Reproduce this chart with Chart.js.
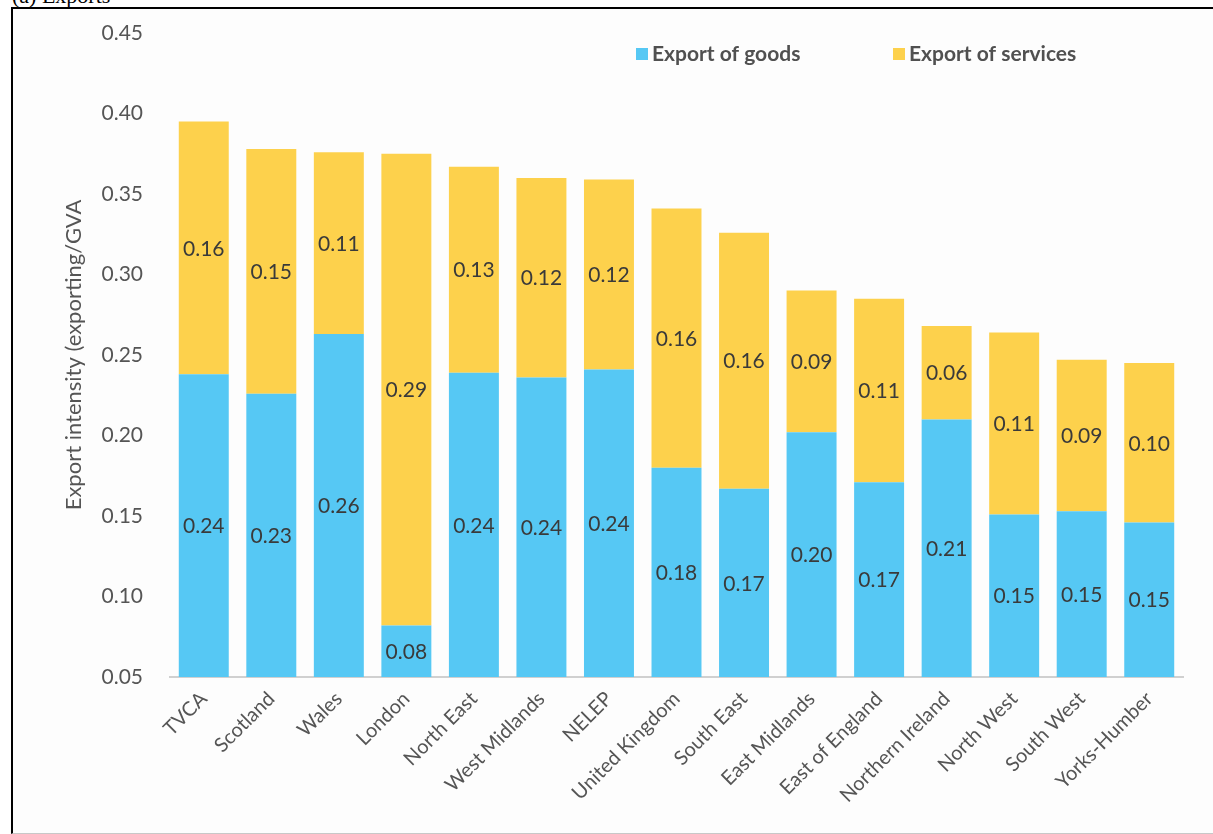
<!DOCTYPE html>
<html>
<head>
<meta charset="utf-8">
<script src="https://cdn.jsdelivr.net/npm/chart.js@4.4.1/dist/chart.umd.min.js"></script>
<style>
  html, body { margin: 0; padding: 0; background: #ffffff; overflow: hidden; }
  #wrap { position: relative; width: 1213px; height: 834px; }
  #cap { position: absolute; left: 12px; top: -17px; font-family: "Liberation Serif", "DejaVu Serif", serif; font-size: 22px; color: #000; }
  #frame { position: absolute; left: 11px; top: 7px; width: 1210px; height: 824px; border-left: 2px solid #000; border-top: 2px solid #000; border-bottom: 1px solid #c8c8c8; background: #fdfdfd; }
  #c { position: absolute; left: 0; top: 0; }
</style>
</head>
<body>
<div id="wrap">
  <div id="cap">(a) Exports</div>
  <div id="frame"></div>
  <canvas id="c" width="1213" height="834"></canvas>
</div>
<script>
const categories = ["TVCA", "Scotland", "Wales", "London", "North East", "West Midlands", "NELEP", "United Kingdom", "South East", "East Midlands", "East of England", "Northern Ireland", "North West", "South West", "Yorks-Humber"];
const exportGoods = [0.238, 0.226, 0.263, 0.082, 0.239, 0.236, 0.241, 0.180, 0.167, 0.202, 0.171, 0.210, 0.151, 0.153, 0.146];
const exportServices = [0.157, 0.152, 0.113, 0.293, 0.128, 0.124, 0.118, 0.161, 0.159, 0.088, 0.114, 0.058, 0.113, 0.094, 0.099];
const seriesNames = ["Export of goods", "Export of services"];
const yTicks = [0.05, 0.10, 0.15, 0.20, 0.25, 0.30, 0.35, 0.40, 0.45];

const FONT = "Lato, 'Open Sans', sans-serif";
const goodsColor = "#56C8F4";
const servicesColor = "#FDD14C";

const segLabels = {
  id: "segLabels",
  afterDatasetsDraw(chart) {
    const ctx = chart.ctx;
    ctx.save();
    ctx.font = "21px " + FONT;
    ctx.fillStyle = "#3a3a3a";
    ctx.textAlign = "center";
    ctx.textBaseline = "middle";
    chart.data.datasets.forEach((ds, di) => {
      const meta = chart.getDatasetMeta(di);
      meta.data.forEach((bar, i) => {
        const top = Math.min(bar.y, bar.base);
        const bot = Math.min(Math.max(bar.y, bar.base), chart.chartArea.bottom);
        ctx.fillText(ds.data[i].toFixed(2), bar.x, (top + bot) / 2 + 1);
      });
    });
    ctx.restore();
  }
};

const customLegend = {
  id: "customLegend",
  afterDraw(chart) {
    const ctx = chart.ctx;
    ctx.save();
    ctx.font = "bold 21px " + FONT;
    ctx.textBaseline = "middle";
    const items = [[636, goodsColor, seriesNames[0]], [893, servicesColor, seriesNames[1]]];
    items.forEach(([x, col, txt]) => {
      ctx.fillStyle = col;
      ctx.fillRect(x, 48, 12, 12);
      ctx.fillStyle = "#505050";
      ctx.fillText(txt, x + 16, 54);
    });
    ctx.restore();
  }
};

new Chart(document.getElementById("c"), {
  type: "bar",
  data: {
    labels: categories,
    datasets: [
      { label: seriesNames[0], data: exportGoods, backgroundColor: goodsColor, borderWidth: 0 },
      { label: seriesNames[1], data: exportServices, backgroundColor: servicesColor, borderWidth: 0 }
    ]
  },
  options: {
    responsive: false,
    animation: false,
    events: [],
    layout: { padding: { left: 0, right: 30, top: 33, bottom: 0 } },
    datasets: { bar: { categoryPercentage: 1, barPercentage: 0.74 } },
    plugins: { legend: { display: false }, tooltip: { enabled: false } },
    scales: {
      x: {
        stacked: true,
        grid: { display: false, drawTicks: false },
        border: { display: true, color: "#d0d0d0", width: 2 },
        ticks: { font: { family: FONT, size: 20 }, color: "#555555", maxRotation: 45, minRotation: 45, padding: 10, autoSkip: false },
        afterFit(s) { s.height = 157; s.paddingLeft = 0; s.paddingRight = 0; }
      },
      y: {
        stacked: true,
        min: 0.05,
        max: 0.45,
        grid: { display: false, drawTicks: false },
        border: { display: false },
        afterBuildTicks(s) { s.ticks = yTicks.map(v => ({ value: v })); },
        ticks: { font: { family: FONT, size: 21 }, color: "#555555", padding: 27, callback: v => Number(v).toFixed(2) },
        title: { display: true, text: "Export intensity (exporting/GVA", font: { family: FONT, size: 22 }, color: "#555555", padding: { top: 61, bottom: 0 } },
        afterFit(s) { s.width = 170; s.paddingTop = 0; s.paddingBottom = 0; }
      }
    }
  },
  plugins: [segLabels, customLegend]
});
</script>
</body>
</html>
